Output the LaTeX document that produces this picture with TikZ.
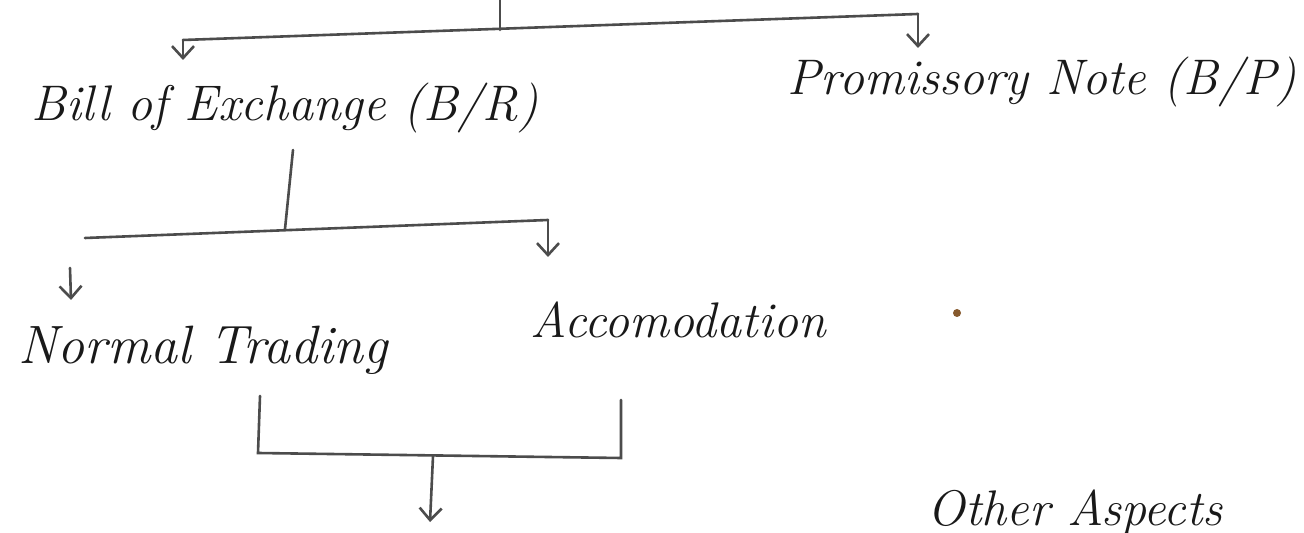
\documentclass[tikz,border=0pt]{standalone}
\usetikzlibrary{arrows.meta}
\begin{document}
\begin{tikzpicture}[x=0.5pt,y=-0.5pt,
  lbl/.style={font=\fontsize{25}{30}\selectfont\itshape, inner sep=0pt, text=black!90},
  ln/.style={draw=black!70, line width=1.3pt, line cap=round},
  arr/.style={ln, -{Straight Barb[length=6pt,width=11pt]}}]
\useasboundingbox (0,0) rectangle (1304,533);
\fill[white] (0,0) rectangle (1304,533);
% labels
\node[lbl] (boe) at (285,108) {Bill of Exchange (B/R)};
\node[lbl] (pn) at (1042,82) {Promissory Note (B/P)};
\node[lbl, font=\fontsize{27}{30}\selectfont\itshape] (nt) at (203,350) {Normal Trading};
\node[lbl] (acc) at (678,320) {Accomodation};
\node[lbl] (oa) at (1075,512) {Other Aspects};
% top level
\coordinate (top) at (500,0);
\coordinate (tj) at (500,30);
\coordinate (tl) at (183,40);
\coordinate (tr) at (918,14);
\coordinate (tla) at (183,60);
\coordinate (tra) at (918,48);
\draw[ln] (top) -- (tj);
\draw[ln] (tl) -- (tr);
\draw[arr] (tl) -- (tla);
\draw[arr] (tr) -- (tra);
% second level
\coordinate (b1) at (293,150);
\coordinate (b2) at (285,229);
\coordinate (bl) at (85,238);
\coordinate (br) at (548,220);
\coordinate (bra) at (548,257);
\coordinate (la1) at (70,268);
\coordinate (la2) at (71,300);
\draw[ln] (b1) -- (b2);
\draw[ln] (bl) -- (br);
\draw[arr] (br) -- (bra);
\draw[arr] (la1) -- (la2);
% bottom bracket
\coordinate (c1) at (260,396);
\coordinate (c2) at (258,453);
\coordinate (c3) at (621,458);
\coordinate (c4) at (621,400);
\coordinate (cm) at (433,456);
\coordinate (ca) at (430,522);
\draw[ln] (c1) -- (c2) -- (c3) -- (c4);
\draw[arr] (cm) -- (ca);
% dot
\fill[brown!70!black] (957,313) circle (4);
\end{tikzpicture}
\end{document}
